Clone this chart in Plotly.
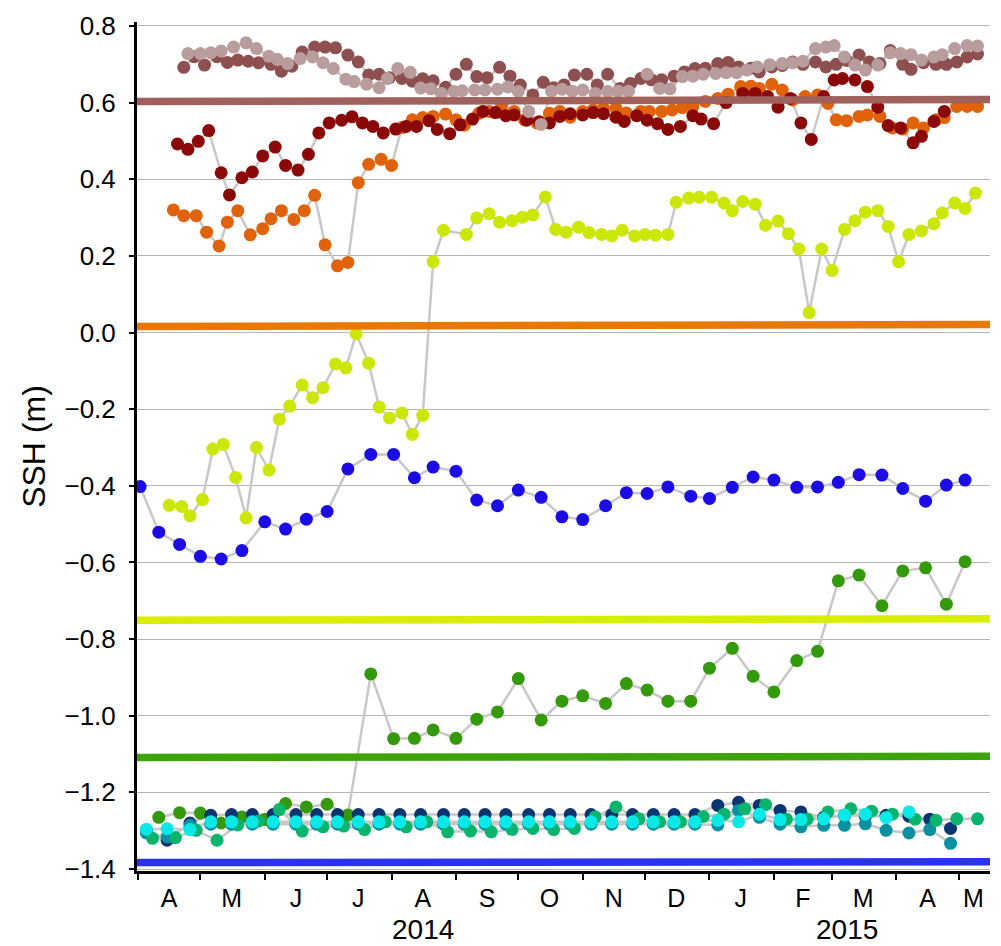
import plotly.graph_objects as go

# ---------------- data ----------------
dates_a = ("2014-04-02 2014-04-11 2014-04-21 2014-05-01 2014-05-11 2014-05-21 2014-06-01 2014-06-11 "
           "2014-06-21 2014-07-01 2014-07-11 2014-07-22 2014-08-02 2014-08-12 2014-08-21 2014-09-01 "
           "2014-09-11 2014-09-21 2014-10-01 2014-10-12 2014-10-22 2014-11-01 2014-11-12 2014-11-22 "
           "2014-12-02 2014-12-12 2014-12-23 2015-01-01 2015-01-12 2015-01-22 2015-02-01 2015-02-12 "
           "2015-02-22 2015-03-04 2015-03-14 2015-03-25 2015-04-04 2015-04-15 2015-04-25 2015-05-04").split()

dates_b = ("2014-04-05 2014-04-15 2014-04-26 2014-05-06 2014-05-16 2014-05-26 2014-06-05 2014-06-16 "
           "2014-06-26 2014-07-06 2014-07-16 2014-07-26 2014-08-05 2014-08-15 2014-08-26 2014-09-05 "
           "2014-09-15 2014-09-25 2014-10-06 2014-10-16 2014-10-26 2014-11-05 2014-11-15 2014-11-25 "
           "2014-12-05 2014-12-15 2014-12-25 2015-01-05 2015-01-15 2015-01-25 2015-02-04 2015-02-14 "
           "2015-02-25 2015-03-07 2015-03-17 2015-03-27 2015-04-07 2015-04-17 2015-04-27").split()

dates_s = ("2014-04-08 2014-04-19 2014-04-29 2014-05-09 2014-05-19 2014-05-29 2014-06-08 2014-06-19 "
           "2014-06-29 2014-07-09 2014-07-19 2014-07-29 2014-08-08 2014-08-18 2014-08-28 2014-09-08 "
           "2014-09-18 2014-09-28 2014-10-08 2014-10-18 2014-10-28 2014-11-07 2014-11-17 2014-11-28 "
           "2014-12-08 2014-12-18 2014-12-29 2015-01-08 2015-01-18 2015-01-28 2015-02-07 2015-02-17 "
           "2015-02-27 2015-03-10 2015-03-20 2015-03-30 2015-04-10 2015-04-20 2015-04-30 2015-05-10").split()

yg_dates = ("2014-04-16 2014-04-22 2014-04-26 2014-05-02 2014-05-07 2014-05-12 2014-05-18 2014-05-23 "
            "2014-05-28 2014-06-03 2014-06-08 2014-06-13 2014-06-19 2014-06-24 2014-06-29 2014-07-05 "
            "2014-07-10 2014-07-15 2014-07-21 2014-07-26 2014-07-31 2014-08-06 2014-08-11 2014-08-16 "
            "2014-08-21 2014-08-26 2014-09-06 2014-09-11 2014-09-17 2014-09-22 2014-09-28 2014-10-03 "
            "2014-10-08 2014-10-14 2014-10-19 2014-10-24 2014-10-30 2014-11-04 2014-11-10 2014-11-15 "
            "2014-11-20 2014-11-26 2014-12-01 2014-12-06 2014-12-12 2014-12-16 2014-12-22 2014-12-27 "
            "2015-01-02 2015-01-08 2015-01-12 2015-01-17 2015-01-23 2015-01-28 2015-02-03 2015-02-08 "
            "2015-02-13 2015-02-18 2015-02-24 2015-03-01 2015-03-07 2015-03-12 2015-03-17 2015-03-23 "
            "2015-03-28 2015-04-02 2015-04-07 2015-04-13 2015-04-19 2015-04-23 2015-04-29 2015-05-04 "
            "2015-05-09").split()
yg_vals = [-0.451, -0.454, -0.478, -0.436, -0.304, -0.292, -0.378, -0.484, -0.300, -0.359,
           -0.226, -0.192, -0.137, -0.170, -0.144, -0.082, -0.092, -0.003, -0.080, -0.194,
           -0.223, -0.210, -0.266, -0.216, 0.185, 0.267, 0.256, 0.299, 0.310, 0.288,
           0.292, 0.301, 0.307, 0.354, 0.269, 0.262, 0.275, 0.261, 0.256, 0.252,
           0.267, 0.252, 0.256, 0.254, 0.256, 0.340, 0.351, 0.353, 0.353, 0.338,
           0.318, 0.342, 0.335, 0.280, 0.291, 0.258, 0.218, 0.052, 0.218, 0.162,
           0.269, 0.292, 0.314, 0.318, 0.277, 0.185, 0.256, 0.265, 0.284, 0.312,
           0.338, 0.324, 0.364]

or_dates = ("2014-04-18 2014-04-23 2014-04-29 2014-05-04 2014-05-10 2014-05-14 2014-05-19 2014-05-25 "
            "2014-05-31 2014-06-04 2014-06-09 2014-06-15 2014-06-20 2014-06-25 2014-06-30 2014-07-06 "
            "2014-07-11 2014-07-16 2014-07-21 2014-07-27 2014-08-01 2014-08-06 2014-08-11 2014-08-16 "
            "2014-08-21 2014-08-27 2014-09-01 2014-09-05 2014-09-12 2014-09-17 2014-09-23 2014-09-29 "
            "2014-10-04 2014-10-10 2014-10-16 2014-10-21 2014-10-26 2014-11-01 2014-11-06 2014-11-11 "
            "2014-11-17 2014-11-22 2014-11-29 2014-12-03 2014-12-09 2014-12-14 2014-12-19 2014-12-24 "
            "2014-12-30 2015-01-05 2015-01-10 2015-01-16 2015-01-21 2015-01-25 2015-01-31 2015-02-05 "
            "2015-02-10 2015-02-16 2015-02-22 2015-02-27 2015-03-03 2015-03-08 2015-03-14 2015-03-18 "
            "2015-03-24 2015-03-30 2015-04-04 2015-04-09 2015-04-14 2015-04-20 2015-04-24 2015-04-30 "
            "2015-05-05 2015-05-10").split()
or_vals = [0.320, 0.305, 0.305, 0.262, 0.226, 0.288, 0.318, 0.255, 0.271, 0.297,
           0.318, 0.295, 0.318, 0.358, 0.229, 0.174, 0.183, 0.391, 0.439, 0.452,
           0.436, 0.535, 0.555, 0.561, 0.564, 0.570, 0.555, 0.541, 0.572, 0.577,
           0.593, 0.577, 0.555, 0.547, 0.572, 0.577, 0.562, 0.577, 0.581, 0.585,
           0.585, 0.573, 0.577, 0.577, 0.577, 0.581, 0.587, 0.590, 0.603, 0.611,
           0.622, 0.642, 0.643, 0.637, 0.648, 0.633, 0.607, 0.616, 0.620, 0.598,
           0.555, 0.553, 0.564, 0.568, 0.564, 0.534, 0.531, 0.547, 0.534, 0.555,
           0.561, 0.590, 0.590, 0.590]

dr_dates = ("2014-04-20 2014-04-25 2014-04-30 2014-05-05 2014-05-11 2014-05-15 2014-05-21 2014-05-26 "
            "2014-05-31 2014-06-06 2014-06-11 2014-06-17 2014-06-22 2014-06-27 2014-07-02 2014-07-08 "
            "2014-07-13 2014-07-18 2014-07-23 2014-07-28 2014-08-03 2014-08-08 2014-08-13 2014-08-19 "
            "2014-08-23 2014-08-29 2014-09-03 2014-09-09 2014-09-14 2014-09-20 2014-09-25 2014-09-29 "
            "2014-10-05 2014-10-11 2014-10-16 2014-10-21 2014-10-26 2014-11-01 2014-11-06 2014-11-11 "
            "2014-11-17 2014-11-21 2014-11-27 2014-12-02 2014-12-07 2014-12-12 2014-12-18 2014-12-24 "
            "2014-12-28 2015-01-03 2015-01-09 2015-01-17 2015-01-23 2015-01-29 2015-02-03 2015-02-09 "
            "2015-02-14 2015-02-19 2015-02-25 2015-03-02 2015-03-06 2015-03-12 2015-03-18 2015-03-23 "
            "2015-03-28 2015-04-03 2015-04-09 2015-04-13 2015-04-19 2015-04-24").split()
dr_vals = [0.492, 0.478, 0.499, 0.527, 0.417, 0.359, 0.404, 0.419, 0.461, 0.484,
           0.436, 0.424, 0.465, 0.521, 0.547, 0.554, 0.563, 0.547, 0.538, 0.521,
           0.531, 0.538, 0.538, 0.553, 0.530, 0.519, 0.542, 0.557, 0.577, 0.574,
           0.566, 0.568, 0.554, 0.550, 0.547, 0.564, 0.571, 0.568, 0.574, 0.571,
           0.562, 0.551, 0.566, 0.554, 0.545, 0.530, 0.538, 0.566, 0.557, 0.545,
           0.600, 0.624, 0.624, 0.616, 0.588, 0.611, 0.547, 0.504, 0.616, 0.659,
           0.663, 0.659, 0.642, 0.588, 0.540, 0.534, 0.495, 0.512, 0.551, 0.577]

rb_dates = ("2014-04-23 2014-04-28 2014-05-03 2014-05-09 2014-05-14 2014-05-19 2014-05-24 2014-05-29 "
            "2014-06-04 2014-06-09 2014-06-14 2014-06-19 2014-06-25 2014-06-30 2014-07-05 2014-07-11 "
            "2014-07-16 2014-07-21 2014-07-26 2014-07-31 2014-08-06 2014-08-11 2014-08-16 2014-08-21 "
            "2014-08-27 2014-09-01 2014-09-06 2014-09-11 2014-09-16 2014-09-22 2014-09-27 2014-10-02 "
            "2014-10-08 2014-10-13 2014-10-18 2014-10-23 2014-10-28 2014-11-03 2014-11-08 2014-11-13 "
            "2014-11-19 2014-11-24 2014-11-29 2014-12-04 2014-12-09 2014-12-15 2014-12-20 2014-12-25 "
            "2014-12-30 2015-01-05 2015-01-10 2015-01-15 2015-01-21 2015-01-25 2015-01-31 2015-02-05 "
            "2015-02-10 2015-02-15 2015-02-21 2015-02-26 2015-03-03 2015-03-08 2015-03-14 2015-03-19 "
            "2015-03-24 2015-03-29 2015-04-04 2015-04-08 2015-04-14 2015-04-20 2015-04-25 2015-04-30 "
            "2015-05-05 2015-05-10").split()
rb_vals = [0.692, 0.720, 0.698, 0.720, 0.705, 0.711, 0.708, 0.704, 0.700, 0.682,
           0.695, 0.732, 0.745, 0.745, 0.743, 0.724, 0.706, 0.672, 0.674, 0.665,
           0.663, 0.656, 0.662, 0.657, 0.640, 0.674, 0.700, 0.668, 0.665, 0.692,
           0.669, 0.646, 0.620, 0.653, 0.639, 0.646, 0.672, 0.674, 0.646, 0.674,
           0.637, 0.650, 0.663, 0.660, 0.660, 0.669, 0.680, 0.689, 0.690, 0.702,
           0.705, 0.693, 0.690, 0.680, 0.693, 0.697, 0.706, 0.700, 0.706, 0.693,
           0.700, 0.710, 0.724, 0.706, 0.702, 0.736, 0.700, 0.687, 0.704, 0.700,
           0.700, 0.706, 0.719, 0.727]

lp_dates = ("2014-04-25 2014-05-01 2014-05-06 2014-05-11 2014-05-17 2014-05-23 2014-05-28 2014-06-03 "
            "2014-06-07 2014-06-12 2014-06-18 2014-06-24 2014-06-29 2014-07-04 2014-07-10 2014-07-14 "
            "2014-07-20 2014-07-26 2014-07-30 2014-08-04 2014-08-10 2014-08-15 2014-08-20 2014-08-25 "
            "2014-08-31 2014-09-04 2014-09-10 2014-09-15 2014-09-21 2014-09-26 2014-10-01 2014-10-06 "
            "2014-10-12 2014-10-17 2014-10-22 2014-10-27 2014-11-01 2014-11-07 2014-11-13 2014-11-18 "
            "2014-11-23 2014-12-02 2014-12-08 2014-12-13 2014-12-19 2014-12-24 2014-12-29 2015-01-04 "
            "2015-01-09 2015-01-14 2015-01-19 2015-01-24 2015-01-30 2015-02-05 2015-02-10 2015-02-15 "
            "2015-02-21 2015-02-26 2015-03-02 2015-03-07 2015-03-12 2015-03-17 2015-03-23 2015-03-29 "
            "2015-04-03 2015-04-08 2015-04-13 2015-04-19 2015-04-23 2015-04-29 2015-05-05 2015-05-10").split()
lp_vals = [0.728, 0.728, 0.730, 0.735, 0.745, 0.756, 0.741, 0.721, 0.713, 0.702,
           0.715, 0.719, 0.704, 0.689, 0.661, 0.655, 0.648, 0.639, 0.663, 0.689,
           0.679, 0.638, 0.636, 0.624, 0.629, 0.631, 0.633, 0.633, 0.635, 0.641,
           0.629, 0.577, 0.543, 0.630, 0.635, 0.630, 0.633, 0.624, 0.629, 0.630,
           0.630, 0.674, 0.637, 0.636, 0.668, 0.669, 0.674, 0.676, 0.678, 0.678,
           0.685, 0.693, 0.699, 0.702, 0.704, 0.708, 0.741, 0.745, 0.749, 0.719,
           0.698, 0.685, 0.698, 0.730, 0.728, 0.725, 0.711, 0.719, 0.725, 0.741,
           0.749, 0.748]

blue_vals = [-0.402, -0.521, -0.553, -0.584, -0.591, -0.569, -0.494, -0.513, -0.487, -0.467,
             -0.356, -0.318, -0.318, -0.379, -0.351, -0.362, -0.437, -0.452, -0.411, -0.430,
             -0.481, -0.488, -0.452, -0.418, -0.420, -0.403, -0.427, -0.433, -0.404, -0.377,
             -0.385, -0.404, -0.403, -0.391, -0.371, -0.372, -0.407, -0.440, -0.398, -0.385]

green_vals = [-1.265, -1.253, -1.254, -1.280, -1.264, -1.271, -1.229, -1.238, -1.231,
              -1.259, -0.891, -1.060, -1.059, -1.037, -1.059, -1.009, -0.990, -0.903, -1.011,
              -0.962, -0.948, -0.968, -0.916, -0.933, -0.962, -0.962, -0.876, -0.824, -0.897,
              -0.938, -0.856, -0.832, -0.648, -0.633, -0.713, -0.622, -0.614, -0.709, -0.598]

navy_vals = [-1.300, -1.325, -1.280, -1.260, -1.258, -1.258, -1.258, -1.258, -1.258, -1.258,
             -1.258, -1.258, -1.258, -1.258, -1.258, -1.258, -1.258, -1.258, -1.258, -1.258,
             -1.258, -1.258, -1.258, -1.258, -1.258, -1.258, -1.258, -1.234, -1.226, -1.234,
             -1.247, -1.251, -1.265, -1.260, -1.262, -1.260, -1.262, -1.270, -1.294]

teal_vals = [-1.306, -1.316, -1.286, -1.283, -1.283, -1.283, -1.283, -1.283, -1.283, -1.283,
             -1.283, -1.283, -1.283, -1.283, -1.283, -1.283, -1.283, -1.283, -1.283, -1.283,
             -1.283, -1.283, -1.283, -1.283, -1.283, -1.283, -1.283, -1.285, -1.247, -1.265,
             -1.283, -1.290, -1.286, -1.286, -1.282, -1.299, -1.306, -1.297, -1.333]

cyan_vals = [-1.296, -1.295, -1.297, -1.277, -1.277, -1.277, -1.277, -1.277, -1.277, -1.277,
             -1.277, -1.277, -1.277, -1.277, -1.277, -1.277, -1.277, -1.277, -1.277, -1.277,
             -1.277, -1.277, -1.277, -1.277, -1.277, -1.277, -1.277, -1.273, -1.277, -1.257,
             -1.271, -1.271, -1.269, -1.259, -1.257, -1.266, -1.251]

seagreen_vals = [-1.320, -1.318, -1.299, -1.325, -1.285, -1.275, -1.245, -1.301, -1.290, -1.288,
                 -1.297, -1.277, -1.290, -1.277, -1.303, -1.301, -1.303, -1.297, -1.294, -1.297,
                 -1.294, -1.264, -1.238, -1.269, -1.277, -1.277, -1.263, -1.257, -1.243, -1.232,
                 -1.270, -1.270, -1.251, -1.243, -1.249, -1.257, -1.270, -1.273, -1.269, -1.269]

# reference levels (left value, right value)
ref_levels = [(0.603, 0.608), (0.016, 0.021), (-0.751, -0.747), (-1.109, -1.106), (-1.383, -1.381)]
ref_colors = ["#a0605c", "#e87800", "#d8ee00", "#3ca408", "#2a32f0"]

month_starts = ["2014-04-01", "2014-05-01", "2014-06-01", "2014-07-01", "2014-08-01", "2014-09-01",
                "2014-10-01", "2014-11-01", "2014-12-01", "2015-01-01", "2015-02-01", "2015-03-01",
                "2015-04-01", "2015-05-01"]
month_label_pos = ["2014-04-16", "2014-05-16", "2014-06-16", "2014-07-16", "2014-08-16", "2014-09-16",
                   "2014-10-16", "2014-11-16", "2014-12-16", "2015-01-16", "2015-02-15", "2015-03-16",
                   "2015-04-16", "2015-05-08"]
month_letters = ["A", "M", "J", "J", "A", "S", "O", "N", "D", "J", "F", "M", "A", "M"]
year_labels = ["2014", "2015"]
year_label_pos = ["2014-08-16", "2015-03-08"]
y_ticks = [0.8, 0.6, 0.4, 0.2, 0.0, -0.2, -0.4, -0.6, -0.8, -1.0, -1.2, -1.4]

# ---------------- figure ----------------
series = [
    (or_dates, or_vals, "#e0620a"),
    (dr_dates, dr_vals, "#8a0808"),
    (rb_dates, rb_vals, "#8e4f50"),
    (lp_dates, lp_vals, "#b99d9d"),
    (yg_dates, yg_vals, "#cce605"),
    (dates_a, blue_vals, "#1c0ce4"),
    (dates_a[1:], green_vals, "#349a0c"),
    (dates_b, navy_vals, "#0a3570"),
    (dates_b, teal_vals, "#0a90a0"),
    (dates_s, seagreen_vals, "#0ab46c"),
    (dates_b[:len(cyan_vals)], cyan_vals, "#0ae8e8"),
]
for xs, ys, c in series:
    if len(xs) != len(ys):
        raise ValueError(f"length mismatch {c}: {len(xs)} vs {len(ys)}")

fig = go.Figure()
for xs, ys, c in series:
    fig.add_trace(go.Scatter(x=xs, y=ys, mode="lines",
                             line=dict(color="#c8c8c8", width=2.5),
                             hoverinfo="skip", showlegend=False))
for xs, ys, c in series:
    fig.add_trace(go.Scatter(x=xs, y=ys, mode="markers",
                             marker=dict(color=c, size=13, line=dict(width=0)),
                             showlegend=False))

for (y0, y1), c in zip(ref_levels, ref_colors):
    fig.add_shape(type="line", xref="paper", yref="y", x0=0, x1=1, y0=y0, y1=y1,
                  line=dict(color=c, width=7.5), layer="above")

for txt, pos in zip(year_labels, year_label_pos):
    fig.add_annotation(text=txt, x=pos, xref="x", y=-0.069, yref="paper",
                       showarrow=False, font=dict(size=28, color="black"),
                       xanchor="center", yanchor="middle")

fig.update_layout(
    width=1001, height=946,
    margin=dict(l=137, r=11, t=15, b=75),
    paper_bgcolor="white", plot_bgcolor="white",
    font=dict(family="Liberation Sans, Arial, sans-serif", color="black"),
    showlegend=False,
    xaxis=dict(
        type="date", range=["2014-03-31 12:00", "2015-05-16"],
        showgrid=False, zeroline=False,
        showline=True, linecolor="black", linewidth=2.5,
        tickmode="array", tickvals=month_label_pos, ticktext=month_letters,
        ticks="", tickfont=dict(size=25), ticklabelstandoff=3,
        minor=dict(tickmode="array", tickvals=month_starts, ticks="outside",
                   ticklen=6, tickwidth=2, tickcolor="black", showgrid=False),
    ),
    yaxis=dict(
        range=[-1.4052, 0.8104],
        tickmode="array", tickvals=y_ticks, tickformat=".1f",
        showgrid=True, gridcolor="#b4b4b4", gridwidth=1, zeroline=False,
        showline=True, linecolor="black", linewidth=3,
        ticks="outside", ticklen=5, tickwidth=1.5, tickcolor="black",
        tickfont=dict(size=26), ticklabelstandoff=8,
        title=dict(text="SSH (m)", font=dict(size=32), standoff=10),
    ),
)

fig.write_html("out.html")
